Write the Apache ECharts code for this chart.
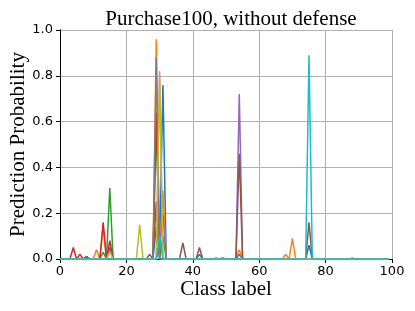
<!DOCTYPE html>
<html>
<head>
<meta charset="utf-8">
<script src="https://cdn.jsdelivr.net/npm/echarts@6/dist/echarts.min.js"></script>
<style>html,body{margin:0;padding:0;background:#fff;}#c{width:415px;height:311px;}</style>
</head>
<body>
<div id="c"></div>
<script>
// [class label, prediction probability] — peaks; zeros elsewhere
const blue   = [[0,0],[14,0],[15,0.05],[16,0],[28,0],[29,0.14],[30,0.02],[31,0.76],[32,0],[41,0],[42,0.02],[43,0],[48,0],[49,0.005],[50,0],[53,0],[54,0.02],[55,0],[74,0],[75,0.06],[76,0],[99,0]];
const orange = [[0,0],[10,0],[11,0.04],[12,0],[13,0.14],[14,0],[28,0],[29,0.96],[30,0.02],[31,0.3],[32,0],[46,0],[47,0.005],[48,0],[53,0],[54,0.04],[55,0],[67,0],[68,0.02],[69,0],[70,0.09],[71,0],[99,0]];
const green  = [[0,0],[12,0],[13,0.03],[14,0],[15,0.31],[16,0],[28,0],[29,0.6],[30,0],[31,0.1],[32,0],[99,0]];
const red    = [[0,0],[3,0],[4,0.05],[5,0],[6,0.02],[7,0],[8,0.01],[9,0],[12,0],[13,0.16],[14,0],[15,0.08],[16,0],[28,0],[29,0.64],[30,0],[99,0]];
const purple = [[0,0],[14,0],[15,0.04],[16,0],[29,0],[30,0.05],[31,0.2],[32,0],[53,0],[54,0.72],[55,0],[99,0]];
const brown  = [[0,0],[7,0],[8,0.01],[9,0],[26,0],[27,0.02],[28,0],[29,0.25],[30,0],[36,0],[37,0.07],[38,0],[41,0],[42,0.05],[43,0],[53,0],[54,0.46],[55,0],[74,0],[75,0.16],[76,0],[99,0]];
const pink   = [[0,0],[29,0],[30,0.82],[31,0],[87,0],[88,0.005],[89,0],[99,0]];
const gray   = [[0,0],[28,0],[29,0.88],[30,0],[99,0]];
const olive  = [[0,0],[14,0],[15,0.03],[16,0],[23,0],[24,0.15],[25,0],[29,0],[30,0.8],[31,0],[99,0]];
const cyan   = [[0,0],[29,0],[30,0.1],[31,0],[74,0],[75,0.89],[76,0],[99,0]];

const seriesData = [blue, orange, green, red, purple, brown, pink, gray, olive, cyan];
const colors = ['#1f77b4','#ff7f0e','#2ca02c','#d62728','#9467bd','#8c564b','#e377c2','#7f7f7f','#bcbd22','#17becf'];

const title = 'Purchase100, without defense';
const xName = 'Class label';
const yName = 'Prediction Probability';

const chart = echarts.init(document.getElementById('c'), null, {renderer:'canvas'});
const serif = '"Liberation Serif", "DejaVu Serif", serif';
const sans = '"DejaVu Sans", sans-serif';
const axisCommon = {
  axisLine:{show:true, onZero:false, lineStyle:{color:'#000', width:1}},
  axisTick:{show:true, inside:false, length:4, lineStyle:{color:'#000'}},
  splitLine:{show:true, lineStyle:{color:'#b0b0b0', width:1}},
  axisLabel:{color:'#000', fontFamily:sans, fontSize:13}
};
chart.setOption({
  animation:false,
  backgroundColor:'#fff',
  title:{text:title, left:226, top:4, textAlign:'center', textStyle:{fontFamily:serif, fontSize:21, fontWeight:'normal', color:'#000'}},
  grid:{left:60, right:23, top:30, bottom:52, containLabel:false, outerBoundsMode:'none'},
  xAxis:[
    Object.assign({}, axisCommon, {type:'value', min:0, max:100, interval:20, name:xName, nameLocation:'middle', nameGap:20, nameMoveOverlap:false,
      nameTextStyle:{fontFamily:serif, fontSize:21, color:'#000'},
      axisLabel:Object.assign({}, axisCommon.axisLabel, {margin:6})}),
    {type:'value', min:0, max:100, position:'top', axisLine:{show:true, lineStyle:{color:'#000'}}, axisTick:{show:false}, axisLabel:{show:false}, splitLine:{show:false}}
  ],
  yAxis:[
    Object.assign({}, axisCommon, {type:'value', min:0, max:1, interval:0.2, name:yName, nameLocation:'middle', nameGap:31, nameMoveOverlap:false,
      nameTextStyle:{fontFamily:serif, fontSize:21, color:'#000'},
      axisLabel:Object.assign({}, axisCommon.axisLabel, {margin:7, formatter:v=>v.toFixed(1)})}),
    {type:'value', min:0, max:1, position:'right', axisLine:{show:true, lineStyle:{color:'#000'}}, axisTick:{show:false}, axisLabel:{show:false}, splitLine:{show:false}}
  ],
  series: seriesData.map((d,i)=>({type:'line', data:d, symbol:'none', color:colors[i], lineStyle:{width:1.5, color:colors[i]}, clip:true}))
});
</script>
</body>
</html>
